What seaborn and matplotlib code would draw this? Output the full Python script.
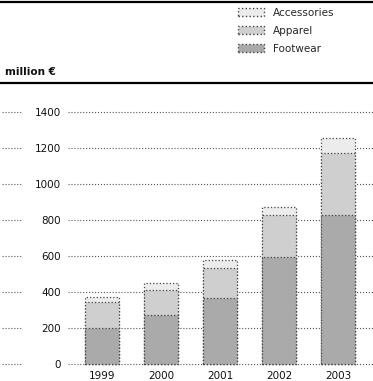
import matplotlib
matplotlib.use("Agg")
import matplotlib.pyplot as plt
import seaborn as sns
import pandas as pd
from matplotlib.lines import Line2D
from matplotlib.patches import Patch

# Sales by segment, million €
years = ["1999", "2000", "2001", "2002", "2003"]
footwear = [200, 275, 367, 592, 828]
apparel = [144, 135, 167, 235, 344]
accessories = [28, 40, 44, 45, 83]
yticks = [0, 200, 400, 600, 800, 1000, 1200, 1400]
series_labels = ["Accessories", "Apparel", "Footwear"]

sns.set_theme(style="white")
plt.rcParams["font.family"] = ["DejaVu Sans"]

df = pd.DataFrame({"year": years, "Footwear": footwear,
                   "Apparel": apparel, "Accessories": accessories})
df["fa"] = df["Footwear"] + df["Apparel"]
df["total"] = df["fa"] + df["Accessories"]

W, H = 373, 381
fig = plt.figure(figsize=(W / 100, H / 100), dpi=100)
pad_px = 1.8
ax = fig.add_axes([68 / W, (17 - pad_px) / H, 305 / W, (252 + 2 * pad_px) / H])

colors = {"Accessories": "#ececec", "Apparel": "#cfcfcf", "Footwear": "#aaaaaa"}
edge = "#444444"
layers = [("total", "Accessories"), ("fa", "Apparel"), ("Footwear", "Footwear")]
for col, name in layers:
    sns.barplot(data=df, x="year", y=col, color=colors[name], saturation=1,
                width=0.58, edgecolor=edge, linewidth=0.9, linestyle=":",
                ax=ax, zorder=3)

ax.set_xlim(-0.58, 4.59)
ax.set_ylim(-10, 1410)
ax.set_yticks(yticks)
ax.set_xlabel("")
ax.set_ylabel("")
for s in ax.spines.values():
    s.set_visible(False)
ax.yaxis.grid(True, linestyle=":", color="#555555", linewidth=0.8)
ax.xaxis.grid(False)
ax.set_axisbelow(True)
ax.tick_params(axis="y", length=0, labelsize=7.5, pad=5, labelcolor="#111111")
ax.tick_params(axis="x", length=0, labelsize=7.5, pad=4, labelcolor="#111111")

# short dotted stubs left of the tick labels
ytr = ax.get_yaxis_transform()
for v in yticks:
    ax.plot([-0.216, -0.151], [v, v], transform=ytr, clip_on=False,
            ls=":", color="#555555", lw=0.8)

# header: unit label and rules
fig.text(5 / W, 1 - 72 / H, "million €", fontweight="bold", fontsize=7.5,
         va="center", ha="left", color="#111111")
fig.add_artist(Line2D([0, 1], [1 - 83 / H] * 2, color="black", lw=1.6))
fig.add_artist(Line2D([0, 1], [1 - 1.5 / H] * 2, color="black", lw=1.6))

handles = [Patch(facecolor=colors[n], edgecolor=edge, linestyle=":", label=n)
           for n in series_labels]
fig.legend(handles=handles, loc="upper left", bbox_to_anchor=(238 / W, 1 - 8 / H),
           frameon=False, fontsize=7.5, handlelength=2.5, handleheight=0.8,
           labelspacing=0.75, handletextpad=0.9, borderaxespad=0, borderpad=0)

fig.savefig("out.png", dpi=100)
